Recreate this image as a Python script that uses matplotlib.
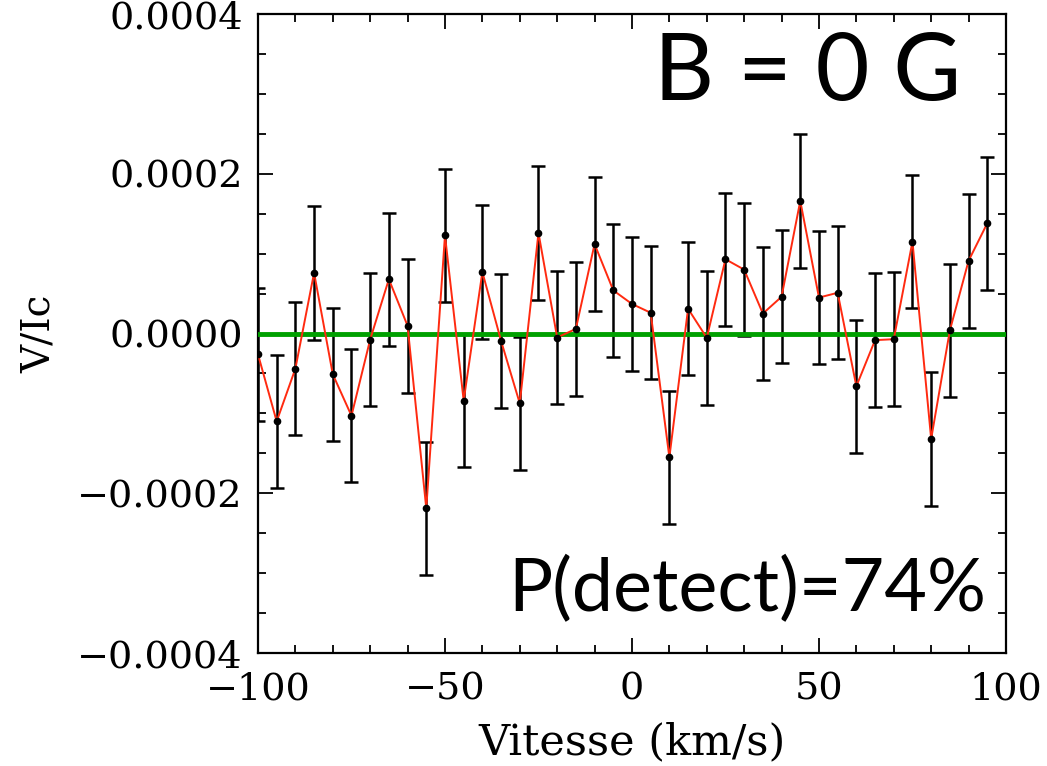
import matplotlib
matplotlib.use("Agg")
import matplotlib.pyplot as plt
from matplotlib.ticker import MultipleLocator, FuncFormatter

velocity = [-100, -95, -90, -85, -80, -75, -70, -65, -60, -55,
            -50, -45, -40, -35, -30, -25, -20, -15, -10, -5,
            0, 5, 10, 15, 20, 25, 30, 35, 40, 45,
            50, 55, 60, 65, 70, 75, 80, 85, 90, 95]
stokes_v = [-2.6e-5, -1.10e-4, -4.4e-5, 7.6e-5, -5.1e-5, -1.03e-4, -7.5e-6, 6.8e-5, 9.6e-6, -2.19e-4,
            1.23e-4, -8.4e-5, 7.7e-5, -9.2e-6, -8.75e-5, 1.26e-4, -5.0e-6, 5.8e-6, 1.12e-4, 5.4e-5,
            3.7e-5, 2.6e-5, -1.55e-4, 3.1e-5, -5.4e-6, 9.3e-5, 8.0e-5, 2.5e-5, 4.6e-5, 1.66e-4,
            4.5e-5, 5.1e-5, -6.6e-5, -8.3e-6, -7.1e-6, 1.15e-4, -1.32e-4, 3.8e-6, 9.1e-5, 1.38e-4]
errors = [8.35e-5, 8.35e-5, 8.35e-5, 8.35e-5, 8.35e-5, 8.35e-5, 8.35e-5, 8.35e-5, 8.35e-5, 8.35e-5,
          8.35e-5, 8.35e-5, 8.35e-5, 8.35e-5, 8.35e-5, 8.35e-5, 8.35e-5, 8.35e-5, 8.35e-5, 8.35e-5,
          8.35e-5, 8.35e-5, 8.35e-5, 8.35e-5, 8.35e-5, 8.35e-5, 8.35e-5, 8.35e-5, 8.35e-5, 8.35e-5,
          8.35e-5, 8.35e-5, 8.35e-5, 8.35e-5, 8.35e-5, 8.35e-5, 8.35e-5, 8.35e-5, 8.35e-5, 8.35e-5]
xticks = [-100, -50, 0, 50, 100]
yticks = [-0.0004, -0.0002, 0.0, 0.0002, 0.0004]

fig = plt.figure(figsize=(10.47, 7.66), dpi=100)
ax = fig.add_axes([0.2464, 0.1475, 0.7144, 0.8342])

ax.errorbar(velocity, stokes_v, yerr=errors, fmt='none', ecolor='black',
            elinewidth=1.8, capsize=5, capthick=1.8, zorder=2)
ax.axhline(0.0, color='#00a000', lw=3.5, zorder=3)
ax.plot(velocity, stokes_v, color='#ff2a10', lw=1.4, zorder=4)
ax.plot(velocity, stokes_v, 'o', color='black', ms=4.5, zorder=5)

ax.set_xlim(-100, 100)
ax.set_ylim(-0.0004, 0.0004)
ax.set_xticks(xticks)
ax.set_yticks(yticks)
ax.xaxis.set_minor_locator(MultipleLocator(10))
ax.yaxis.set_minor_locator(MultipleLocator(0.00005))

def fmt_x(v, pos):
    return ("\u2212%d" % abs(v)) if v < 0 else "%d" % v

def fmt_y(v, pos):
    s = "%.4f" % abs(v)
    return ("\u2212" + s) if v < -1e-12 else s

ax.xaxis.set_major_formatter(FuncFormatter(fmt_x))
ax.yaxis.set_major_formatter(FuncFormatter(fmt_y))

ax.tick_params(which='both', direction='in', top=True, right=True, width=1.3,
               labelsize=27.5)
ax.tick_params(which='major', length=11)
ax.tick_params(which='minor', length=5.5)
ax.tick_params(axis='x', which='major', pad=13)
ax.tick_params(axis='y', which='major', pad=11)
for lab in ax.get_xticklabels() + ax.get_yticklabels():
    lab.set_family('DejaVu Serif')
for sp in ax.spines.values():
    sp.set_linewidth(1.6)

ax.set_xlabel('Vitesse (km/s)', fontsize=31, family='DejaVu Serif', labelpad=10)
ax.set_ylabel('V/Ic', fontsize=28, family='DejaVu Serif', labelpad=14)

ax.text(0.94, 0.972, 'B = 0 G', transform=ax.transAxes, ha='right', va='top',
        fontsize=67, family='Lato')
ax.text(0.973, 0.045, 'P(detect)=74%', transform=ax.transAxes, ha='right', va='bottom',
        fontsize=53, family='Lato')

fig.savefig('out.png', dpi=100)
